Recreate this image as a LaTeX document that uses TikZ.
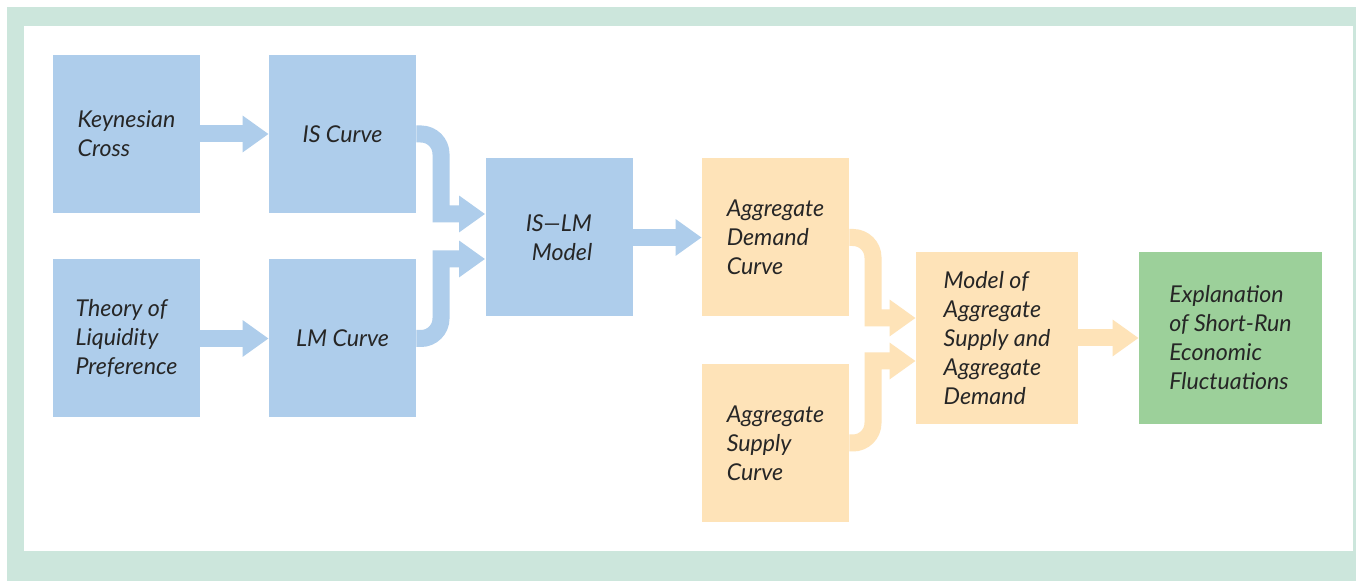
\documentclass[tikz,border=0pt]{standalone}
\usepackage{fontspec}
\setmainfont{Lato}
\usetikzlibrary{arrows.meta}
\definecolor{boxblue}{HTML}{AECDEB}
\definecolor{boxtan}{HTML}{FEE3B8}
\definecolor{boxgreen}{HTML}{9CD09A}
\definecolor{framegreen}{HTML}{CCE6DC}
\begin{document}
\begin{tikzpicture}[x=0.5pt,y=-0.5pt,
  blk/.style={minimum width=73.5pt,minimum height=79pt,inner sep=0pt,align=left,
    font=\itshape\fontsize{11.6}{14.5}\selectfont,text=black!85},
  bluebox/.style={blk,fill=boxblue},
  tanbox/.style={blk,fill=boxtan},
  greenbox/.style={blk,fill=boxgreen},
  flow/.style={line width=8.5pt,-{Triangle[length=13pt,width=17.5pt]}}]
        \useasboundingbox (0,0) rectangle (1356,581);
        \fill[framegreen] (7,7) rectangle (1356,581);
        \fill[white] (24,26) rectangle (1353,551);
        \node[bluebox] (kc) at (126.5,134) {Keynesian\\Cross};
        \node[bluebox] (is) at (342.5,134) {IS Curve};
        \node[bluebox] (tlp) at (126.5,338.5) {Theory of\\Liquidity\\Preference};
        \node[bluebox] (lm) at (342.5,338.5) {LM Curve};
        \node[bluebox] (islm) at (559,237.5) {IS---LM\\\hphantom{I}Model};
        \node[tanbox] (ad) at (775.5,237.5) {Aggregate\\Demand\\Curve};
        \node[tanbox] (as) at (775.5,443) {Aggregate\\Supply\\Curve};
        \node[tanbox,minimum width=81pt,minimum height=86pt] (asad) at (997,338) {Model of\\Aggregate\\Supply and\\Aggregate\\Demand};
        \node[greenbox,minimum width=91.5pt,minimum height=86pt] (expl) at (1230.5,338) {Explanation\\of Short-Run\\Economic\\Fluctuations};
        \coordinate (j1) at (441,214);
        \coordinate (j2) at (441,259);
        \coordinate (j3) at (873,318);
        \coordinate (j4) at (873,361);
        \draw[flow,boxblue] (kc) -- (is);
        \draw[flow,boxblue] (tlp) -- (lm);
        \draw[flow,boxblue] (is.east) [rounded corners=10pt] -- (is.east -| j1) [sharp corners] -- (j1) -- (j1 -| islm.west);
        \draw[flow,boxblue] (lm.east) [rounded corners=10pt] -- (lm.east -| j2) [sharp corners] -- (j2) -- (j2 -| islm.west);
        \draw[flow,boxblue] (islm) -- (ad);
        \draw[flow,boxtan] (ad.east) [rounded corners=10pt] -- (ad.east -| j3) [sharp corners] -- (j3) -- (j3 -| asad.west);
        \draw[flow,boxtan] (as.east) [rounded corners=10pt] -- (as.east -| j4) [sharp corners] -- (j4) -- (j4 -| asad.west);
        \draw[flow,boxtan] (asad) -- (expl);
      \end{tikzpicture}
\end{document}
